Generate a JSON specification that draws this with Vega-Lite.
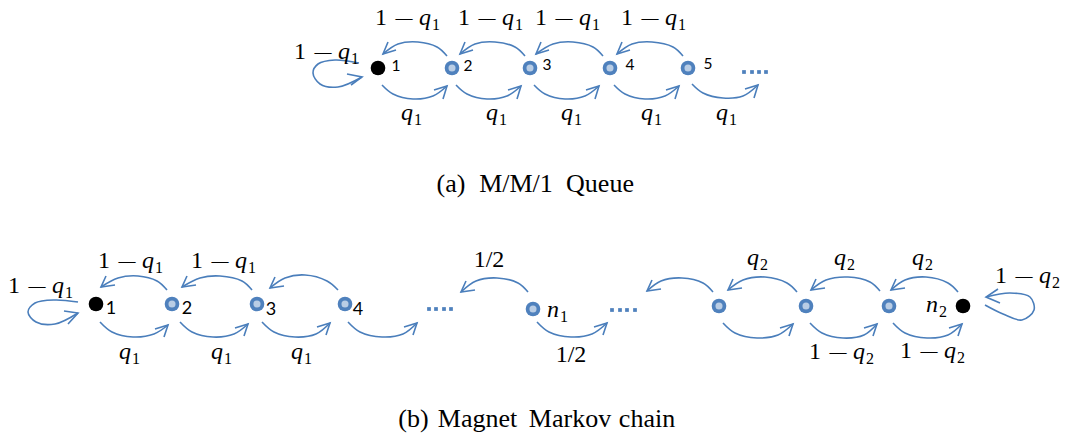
{
  "$schema": "https://vega.github.io/schema/vega-lite/v6.json",
  "width": 1067,
  "height": 437,
  "padding": 0,
  "autosize": {"type": "fit", "contains": "padding"},
  "background": "white",
  "config": {"view": {"stroke": null}},
  "datasets": {
    "nodes": [
      {"x": 378, "y": 68, "kind": "black"},
      {"x": 452, "y": 68, "kind": "blue"},
      {"x": 530, "y": 68, "kind": "blue"},
      {"x": 610, "y": 68, "kind": "blue"},
      {"x": 688, "y": 68, "kind": "blue"},
      {"x": 96, "y": 304, "kind": "black"},
      {"x": 172, "y": 304, "kind": "blue"},
      {"x": 257, "y": 304, "kind": "blue"},
      {"x": 345, "y": 304, "kind": "blue"},
      {"x": 533, "y": 309, "kind": "blue"},
      {"x": 719, "y": 306, "kind": "blue"},
      {"x": 806, "y": 306, "kind": "blue"},
      {"x": 889, "y": 306, "kind": "blue"},
      {"x": 963, "y": 306, "kind": "black"}
    ],
    "nums": [
      {"x": 396, "y": 66, "t": "1", "panel": "a"},
      {"x": 468, "y": 66, "t": "2", "panel": "a"},
      {"x": 547, "y": 65, "t": "3", "panel": "a"},
      {"x": 630, "y": 64.5, "t": "4", "panel": "a"},
      {"x": 708, "y": 63.5, "t": "5", "panel": "a"},
      {"x": 111, "y": 309, "t": "1", "panel": "b"},
      {"x": 187, "y": 308.5, "t": "2", "panel": "b"},
      {"x": 271, "y": 309.5, "t": "3", "panel": "b"},
      {"x": 358, "y": 309.5, "t": "4", "panel": "b"}
    ],
    "dots": [
      {"x": 744, "y": 72}, {"x": 752, "y": 72}, {"x": 759, "y": 72}, {"x": 766, "y": 72},
      {"x": 429, "y": 309}, {"x": 436, "y": 309}, {"x": 444, "y": 309}, {"x": 451, "y": 309},
      {"x": 612, "y": 310}, {"x": 620, "y": 310}, {"x": 627, "y": 310}, {"x": 635, "y": 310}
    ],
    "arcs": [
      {"id": "aL", "s": 1, "x": 359, "y": 63}, {"id": "aL", "s": 2, "x": 335, "y": 60}, {"id": "aL", "s": 3, "x": 318, "y": 64}, {"id": "aL", "s": 4, "x": 313, "y": 73}, {"id": "aL", "s": 5, "x": 320, "y": 84}, {"id": "aL", "s": 6, "x": 338, "y": 87}, {"id": "aL", "s": 7, "x": 362, "y": 77},
      {"id": "aT1", "s": 1, "x": 447, "y": 56}, {"id": "aT1", "s": 2, "x": 437, "y": 47}, {"id": "aT1", "s": 3, "x": 418, "y": 42}, {"id": "aT1", "s": 4, "x": 398, "y": 44}, {"id": "aT1", "s": 5, "x": 383, "y": 54},
      {"id": "aT2", "s": 1, "x": 525, "y": 56}, {"id": "aT2", "s": 2, "x": 515, "y": 47}, {"id": "aT2", "s": 3, "x": 495, "y": 42}, {"id": "aT2", "s": 4, "x": 475, "y": 44}, {"id": "aT2", "s": 5, "x": 460, "y": 54},
      {"id": "aT3", "s": 1, "x": 603, "y": 56}, {"id": "aT3", "s": 2, "x": 593, "y": 47}, {"id": "aT3", "s": 3, "x": 573, "y": 42}, {"id": "aT3", "s": 4, "x": 553, "y": 44}, {"id": "aT3", "s": 5, "x": 536, "y": 54},
      {"id": "aT4", "s": 1, "x": 683, "y": 56}, {"id": "aT4", "s": 2, "x": 673, "y": 47}, {"id": "aT4", "s": 3, "x": 652, "y": 42}, {"id": "aT4", "s": 4, "x": 632, "y": 44}, {"id": "aT4", "s": 5, "x": 617, "y": 54},
      {"id": "aB1", "s": 1, "x": 382, "y": 85}, {"id": "aB1", "s": 2, "x": 393, "y": 94}, {"id": "aB1", "s": 3, "x": 413, "y": 99}, {"id": "aB1", "s": 4, "x": 433, "y": 96}, {"id": "aB1", "s": 5, "x": 447, "y": 86},
      {"id": "aB2", "s": 1, "x": 456, "y": 85}, {"id": "aB2", "s": 2, "x": 467, "y": 94}, {"id": "aB2", "s": 3, "x": 487, "y": 99}, {"id": "aB2", "s": 4, "x": 507, "y": 96}, {"id": "aB2", "s": 5, "x": 521, "y": 86},
      {"id": "aB3", "s": 1, "x": 534, "y": 85}, {"id": "aB3", "s": 2, "x": 545, "y": 94}, {"id": "aB3", "s": 3, "x": 565, "y": 99}, {"id": "aB3", "s": 4, "x": 585, "y": 96}, {"id": "aB3", "s": 5, "x": 599, "y": 86},
      {"id": "aB4", "s": 1, "x": 614, "y": 85}, {"id": "aB4", "s": 2, "x": 625, "y": 94}, {"id": "aB4", "s": 3, "x": 645, "y": 99}, {"id": "aB4", "s": 4, "x": 665, "y": 96}, {"id": "aB4", "s": 5, "x": 679, "y": 86},
      {"id": "aB5", "s": 1, "x": 692, "y": 84}, {"id": "aB5", "s": 2, "x": 703, "y": 93}, {"id": "aB5", "s": 3, "x": 723, "y": 98}, {"id": "aB5", "s": 4, "x": 743, "y": 96}, {"id": "aB5", "s": 5, "x": 758, "y": 85},
      {"id": "bL", "s": 1, "x": 78, "y": 302}, {"id": "bL", "s": 2, "x": 55, "y": 300}, {"id": "bL", "s": 3, "x": 35, "y": 303}, {"id": "bL", "s": 4, "x": 28, "y": 312}, {"id": "bL", "s": 5, "x": 36, "y": 322}, {"id": "bL", "s": 6, "x": 55, "y": 324}, {"id": "bL", "s": 7, "x": 78, "y": 313},
      {"id": "bR", "s": 1, "x": 985, "y": 305}, {"id": "bR", "s": 2, "x": 1003, "y": 314}, {"id": "bR", "s": 3, "x": 1022, "y": 320}, {"id": "bR", "s": 4, "x": 1034, "y": 310}, {"id": "bR", "s": 5, "x": 1030, "y": 297}, {"id": "bR", "s": 6, "x": 1010, "y": 293}, {"id": "bR", "s": 7, "x": 986, "y": 297},
      {"id": "bT1", "s": 1, "x": 167, "y": 290}, {"id": "bT1", "s": 2, "x": 157, "y": 281}, {"id": "bT1", "s": 3, "x": 138, "y": 276}, {"id": "bT1", "s": 4, "x": 118, "y": 278}, {"id": "bT1", "s": 5, "x": 101, "y": 287},
      {"id": "bT2", "s": 1, "x": 252, "y": 290}, {"id": "bT2", "s": 2, "x": 242, "y": 281}, {"id": "bT2", "s": 3, "x": 220, "y": 276}, {"id": "bT2", "s": 4, "x": 200, "y": 278}, {"id": "bT2", "s": 5, "x": 182, "y": 287},
      {"id": "bT3", "s": 1, "x": 338, "y": 290}, {"id": "bT3", "s": 2, "x": 327, "y": 281}, {"id": "bT3", "s": 3, "x": 305, "y": 275}, {"id": "bT3", "s": 4, "x": 285, "y": 278}, {"id": "bT3", "s": 5, "x": 270, "y": 288},
      {"id": "bT4", "s": 1, "x": 528, "y": 292}, {"id": "bT4", "s": 2, "x": 518, "y": 283}, {"id": "bT4", "s": 3, "x": 497, "y": 278}, {"id": "bT4", "s": 4, "x": 476, "y": 281}, {"id": "bT4", "s": 5, "x": 461, "y": 292},
      {"id": "bT5", "s": 1, "x": 713, "y": 292}, {"id": "bT5", "s": 2, "x": 703, "y": 283}, {"id": "bT5", "s": 3, "x": 682, "y": 278}, {"id": "bT5", "s": 4, "x": 661, "y": 281}, {"id": "bT5", "s": 5, "x": 647, "y": 291},
      {"id": "bT6", "s": 1, "x": 797, "y": 292}, {"id": "bT6", "s": 2, "x": 787, "y": 283}, {"id": "bT6", "s": 3, "x": 765, "y": 277}, {"id": "bT6", "s": 4, "x": 743, "y": 280}, {"id": "bT6", "s": 5, "x": 728, "y": 290},
      {"id": "bT7", "s": 1, "x": 880, "y": 291}, {"id": "bT7", "s": 2, "x": 870, "y": 282}, {"id": "bT7", "s": 3, "x": 848, "y": 277}, {"id": "bT7", "s": 4, "x": 826, "y": 280}, {"id": "bT7", "s": 5, "x": 811, "y": 290},
      {"id": "bT8", "s": 1, "x": 958, "y": 292}, {"id": "bT8", "s": 2, "x": 948, "y": 283}, {"id": "bT8", "s": 3, "x": 926, "y": 277}, {"id": "bT8", "s": 4, "x": 905, "y": 280}, {"id": "bT8", "s": 5, "x": 891, "y": 290},
      {"id": "bB1", "s": 1, "x": 100, "y": 322}, {"id": "bB1", "s": 2, "x": 112, "y": 332}, {"id": "bB1", "s": 3, "x": 133, "y": 337}, {"id": "bB1", "s": 4, "x": 154, "y": 334}, {"id": "bB1", "s": 5, "x": 168, "y": 325},
      {"id": "bB2", "s": 1, "x": 180, "y": 322}, {"id": "bB2", "s": 2, "x": 192, "y": 332}, {"id": "bB2", "s": 3, "x": 213, "y": 337}, {"id": "bB2", "s": 4, "x": 234, "y": 334}, {"id": "bB2", "s": 5, "x": 248, "y": 324},
      {"id": "bB3", "s": 1, "x": 262, "y": 322}, {"id": "bB3", "s": 2, "x": 274, "y": 332}, {"id": "bB3", "s": 3, "x": 295, "y": 337}, {"id": "bB3", "s": 4, "x": 316, "y": 334}, {"id": "bB3", "s": 5, "x": 330, "y": 323},
      {"id": "bB4", "s": 1, "x": 348, "y": 322}, {"id": "bB4", "s": 2, "x": 360, "y": 332}, {"id": "bB4", "s": 3, "x": 382, "y": 337}, {"id": "bB4", "s": 4, "x": 403, "y": 334}, {"id": "bB4", "s": 5, "x": 417, "y": 323},
      {"id": "bB5", "s": 1, "x": 537, "y": 322}, {"id": "bB5", "s": 2, "x": 549, "y": 332}, {"id": "bB5", "s": 3, "x": 571, "y": 337}, {"id": "bB5", "s": 4, "x": 592, "y": 334}, {"id": "bB5", "s": 5, "x": 607, "y": 323},
      {"id": "bB6", "s": 1, "x": 723, "y": 323}, {"id": "bB6", "s": 2, "x": 735, "y": 333}, {"id": "bB6", "s": 3, "x": 757, "y": 338}, {"id": "bB6", "s": 4, "x": 778, "y": 335}, {"id": "bB6", "s": 5, "x": 793, "y": 324},
      {"id": "bB7", "s": 1, "x": 810, "y": 323}, {"id": "bB7", "s": 2, "x": 822, "y": 333}, {"id": "bB7", "s": 3, "x": 843, "y": 338}, {"id": "bB7", "s": 4, "x": 864, "y": 335}, {"id": "bB7", "s": 5, "x": 877, "y": 324},
      {"id": "bB8", "s": 1, "x": 893, "y": 323}, {"id": "bB8", "s": 2, "x": 905, "y": 333}, {"id": "bB8", "s": 3, "x": 927, "y": 338}, {"id": "bB8", "s": 4, "x": 948, "y": 335}, {"id": "bB8", "s": 5, "x": 962, "y": 324}
    ],
    "heads": [
      {"id": "aL", "s": 1, "x": 347, "y": 74}, {"id": "aL", "s": 2, "x": 362, "y": 77}, {"id": "aL", "s": 3, "x": 351, "y": 85},
      {"id": "aT1", "s": 1, "x": 388, "y": 42}, {"id": "aT1", "s": 2, "x": 383, "y": 54}, {"id": "aT1", "s": 3, "x": 396, "y": 50},
      {"id": "aT2", "s": 1, "x": 465, "y": 42}, {"id": "aT2", "s": 2, "x": 460, "y": 54}, {"id": "aT2", "s": 3, "x": 473, "y": 50},
      {"id": "aT3", "s": 1, "x": 541, "y": 42}, {"id": "aT3", "s": 2, "x": 536, "y": 54}, {"id": "aT3", "s": 3, "x": 549, "y": 50},
      {"id": "aT4", "s": 1, "x": 622, "y": 42}, {"id": "aT4", "s": 2, "x": 617, "y": 54}, {"id": "aT4", "s": 3, "x": 630, "y": 50},
      {"id": "aB1", "s": 1, "x": 434, "y": 90}, {"id": "aB1", "s": 2, "x": 447, "y": 86}, {"id": "aB1", "s": 3, "x": 443, "y": 99},
      {"id": "aB2", "s": 1, "x": 508, "y": 90}, {"id": "aB2", "s": 2, "x": 521, "y": 86}, {"id": "aB2", "s": 3, "x": 517, "y": 99},
      {"id": "aB3", "s": 1, "x": 586, "y": 90}, {"id": "aB3", "s": 2, "x": 599, "y": 86}, {"id": "aB3", "s": 3, "x": 595, "y": 99},
      {"id": "aB4", "s": 1, "x": 666, "y": 90}, {"id": "aB4", "s": 2, "x": 679, "y": 86}, {"id": "aB4", "s": 3, "x": 675, "y": 99},
      {"id": "aB5", "s": 1, "x": 745, "y": 89}, {"id": "aB5", "s": 2, "x": 758, "y": 85}, {"id": "aB5", "s": 3, "x": 754, "y": 98},
      {"id": "bL", "s": 1, "x": 64, "y": 311}, {"id": "bL", "s": 2, "x": 78, "y": 313}, {"id": "bL", "s": 3, "x": 68, "y": 324},
      {"id": "bR", "s": 1, "x": 998, "y": 289}, {"id": "bR", "s": 2, "x": 986, "y": 297}, {"id": "bR", "s": 3, "x": 1000, "y": 303},
      {"id": "bT1", "s": 1, "x": 106, "y": 276}, {"id": "bT1", "s": 2, "x": 101, "y": 287}, {"id": "bT1", "s": 3, "x": 115, "y": 285},
      {"id": "bT2", "s": 1, "x": 187, "y": 276}, {"id": "bT2", "s": 2, "x": 182, "y": 287}, {"id": "bT2", "s": 3, "x": 196, "y": 285},
      {"id": "bT3", "s": 1, "x": 275, "y": 277}, {"id": "bT3", "s": 2, "x": 270, "y": 288}, {"id": "bT3", "s": 3, "x": 284, "y": 286},
      {"id": "bT4", "s": 1, "x": 466, "y": 281}, {"id": "bT4", "s": 2, "x": 461, "y": 292}, {"id": "bT4", "s": 3, "x": 475, "y": 290},
      {"id": "bT5", "s": 1, "x": 652, "y": 280}, {"id": "bT5", "s": 2, "x": 647, "y": 291}, {"id": "bT5", "s": 3, "x": 661, "y": 289},
      {"id": "bT6", "s": 1, "x": 733, "y": 279}, {"id": "bT6", "s": 2, "x": 728, "y": 290}, {"id": "bT6", "s": 3, "x": 742, "y": 288},
      {"id": "bT7", "s": 1, "x": 816, "y": 279}, {"id": "bT7", "s": 2, "x": 811, "y": 290}, {"id": "bT7", "s": 3, "x": 825, "y": 288},
      {"id": "bT8", "s": 1, "x": 896, "y": 279}, {"id": "bT8", "s": 2, "x": 891, "y": 290}, {"id": "bT8", "s": 3, "x": 905, "y": 288},
      {"id": "bB1", "s": 1, "x": 155, "y": 329}, {"id": "bB1", "s": 2, "x": 168, "y": 325}, {"id": "bB1", "s": 3, "x": 164, "y": 337},
      {"id": "bB2", "s": 1, "x": 235, "y": 328}, {"id": "bB2", "s": 2, "x": 248, "y": 324}, {"id": "bB2", "s": 3, "x": 244, "y": 336},
      {"id": "bB3", "s": 1, "x": 317, "y": 327}, {"id": "bB3", "s": 2, "x": 330, "y": 323}, {"id": "bB3", "s": 3, "x": 326, "y": 335},
      {"id": "bB4", "s": 1, "x": 404, "y": 327}, {"id": "bB4", "s": 2, "x": 417, "y": 323}, {"id": "bB4", "s": 3, "x": 413, "y": 335},
      {"id": "bB5", "s": 1, "x": 594, "y": 327}, {"id": "bB5", "s": 2, "x": 607, "y": 323}, {"id": "bB5", "s": 3, "x": 603, "y": 335},
      {"id": "bB6", "s": 1, "x": 780, "y": 328}, {"id": "bB6", "s": 2, "x": 793, "y": 324}, {"id": "bB6", "s": 3, "x": 789, "y": 336},
      {"id": "bB7", "s": 1, "x": 864, "y": 328}, {"id": "bB7", "s": 2, "x": 877, "y": 324}, {"id": "bB7", "s": 3, "x": 873, "y": 336},
      {"id": "bB8", "s": 1, "x": 949, "y": 328}, {"id": "bB8", "s": 2, "x": 962, "y": 324}, {"id": "bB8", "s": 3, "x": 958, "y": 336}
    ],
    "labels": [
      {"x": 339, "y": 59, "v": "q", "sub": "1", "minus": true},
      {"x": 420, "y": 25, "v": "q", "sub": "1", "minus": true},
      {"x": 503, "y": 25, "v": "q", "sub": "1", "minus": true},
      {"x": 580, "y": 25, "v": "q", "sub": "1", "minus": true},
      {"x": 666, "y": 25, "v": "q", "sub": "1", "minus": true},
      {"x": 402, "y": 120, "v": "q", "sub": "1", "minus": false},
      {"x": 487, "y": 120, "v": "q", "sub": "1", "minus": false},
      {"x": 562, "y": 120, "v": "q", "sub": "1", "minus": false},
      {"x": 642, "y": 120, "v": "q", "sub": "1", "minus": false},
      {"x": 717, "y": 120, "v": "q", "sub": "1", "minus": false},
      {"x": 53, "y": 293, "v": "q", "sub": "1", "minus": true},
      {"x": 143, "y": 268, "v": "q", "sub": "1", "minus": true},
      {"x": 236, "y": 268, "v": "q", "sub": "1", "minus": true},
      {"x": 120, "y": 359, "v": "q", "sub": "1", "minus": false},
      {"x": 212, "y": 359, "v": "q", "sub": "1", "minus": false},
      {"x": 292, "y": 359, "v": "q", "sub": "1", "minus": false},
      {"x": 748, "y": 265, "v": "q", "sub": "2", "minus": false},
      {"x": 835, "y": 265, "v": "q", "sub": "2", "minus": false},
      {"x": 913, "y": 265, "v": "q", "sub": "2", "minus": false},
      {"x": 854, "y": 359, "v": "q", "sub": "2", "minus": true},
      {"x": 945, "y": 358, "v": "q", "sub": "2", "minus": true},
      {"x": 1040, "y": 283, "v": "q", "sub": "2", "minus": true},
      {"x": 548, "y": 317, "v": "n", "sub": "1", "minus": false},
      {"x": 927, "y": 312, "v": "n", "sub": "2", "minus": false}
    ],
    "fracs": [
      {"x": 489, "y": 267, "t": "1/2"},
      {"x": 571, "y": 362, "t": "1/2"}
    ],
    "caps": [
      {"x": 451, "y": 192, "t": "(a)"},
      {"x": 516, "y": 192, "t": "M/M/1"},
      {"x": 600, "y": 192, "t": "Queue"},
      {"x": 413.5, "y": 427, "t": "(b)"},
      {"x": 477.5, "y": 427, "t": "Magnet"},
      {"x": 570, "y": 427, "t": "Markov"},
      {"x": 647, "y": 427, "t": "chain"}
    ]
  },
  "encoding": {
    "x": {"field": "x", "type": "quantitative", "scale": {"domain": [0, 1067], "nice": false, "zero": false}, "axis": null},
    "y": {"field": "y", "type": "quantitative", "scale": {"domain": [0, 437], "nice": false, "zero": false, "reverse": true}, "axis": null}
  },
  "layer": [
    {
      "data": {"name": "arcs"},
      "mark": {"type": "line", "interpolate": "catmull-rom", "color": "#4A7EBB", "strokeWidth": 1.6},
      "encoding": {"detail": {"field": "id"}, "order": {"field": "s", "type": "quantitative"}}
    },
    {
      "data": {"name": "heads"},
      "mark": {"type": "line", "color": "#4A7EBB", "strokeWidth": 1.6, "strokeJoin": "miter"},
      "encoding": {"detail": {"field": "id"}, "order": {"field": "s", "type": "quantitative"}}
    },
    {
      "data": {"name": "nodes"},
      "mark": {"type": "point", "shape": "circle", "filled": true, "size": 215, "opacity": 1},
      "encoding": {"color": {"field": "kind", "type": "nominal", "scale": {"domain": ["black", "blue"], "range": ["#000000", "#4F81BD"]}, "legend": null}}
    },
    {
      "data": {"name": "nodes"},
      "transform": [{"filter": "datum.kind === 'blue'"}],
      "mark": {"type": "point", "shape": "circle", "filled": true, "size": 50, "color": "#B9CDE5", "opacity": 1}
    },
    {
      "data": {"name": "dots"},
      "mark": {"type": "point", "shape": "square", "filled": true, "size": 14, "color": "#4F81BD", "opacity": 1}
    },
    {
      "data": {"name": "nums"},
      "mark": {"type": "text", "font": "Lato", "align": "center", "baseline": "middle", "color": "#000000"},
      "encoding": {
        "text": {"field": "t"},
        "size": {"field": "panel", "type": "nominal", "scale": {"domain": ["a", "b"], "range": [15.5, 18]}, "legend": null}
      }
    },
    {
      "data": {"name": "labels"},
      "transform": [{"filter": "datum.minus"}],
      "mark": {"type": "text", "text": "1", "font": "Liberation Serif", "fontSize": 24, "align": "left", "baseline": "alphabetic", "dx": -45, "color": "#000000"}
    },
    {
      "data": {"name": "labels"},
      "transform": [{"filter": "datum.minus"}],
      "mark": {"type": "text", "text": "—", "font": "Liberation Serif", "fontSize": 17, "align": "center", "baseline": "alphabetic", "dx": -16, "dy": -2.5, "color": "#000000"}
    },
    {
      "data": {"name": "labels"},
      "mark": {"type": "text", "font": "Liberation Serif", "fontStyle": "italic", "fontSize": 24, "align": "left", "baseline": "alphabetic", "dx": -1, "color": "#000000"},
      "encoding": {"text": {"field": "v"}}
    },
    {
      "data": {"name": "labels"},
      "mark": {"type": "text", "font": "Liberation Serif", "fontSize": 16, "align": "left", "baseline": "alphabetic", "dx": 12, "dy": 5, "color": "#000000"},
      "encoding": {"text": {"field": "sub"}}
    },
    {
      "data": {"name": "fracs"},
      "mark": {"type": "text", "font": "Liberation Serif", "fontSize": 24, "align": "center", "baseline": "alphabetic", "color": "#000000"},
      "encoding": {"text": {"field": "t"}}
    },
    {
      "data": {"name": "caps"},
      "mark": {"type": "text", "font": "Liberation Serif", "fontSize": 26, "align": "center", "baseline": "alphabetic", "color": "#000000"},
      "encoding": {"text": {"field": "t"}}
    }
  ]
}
